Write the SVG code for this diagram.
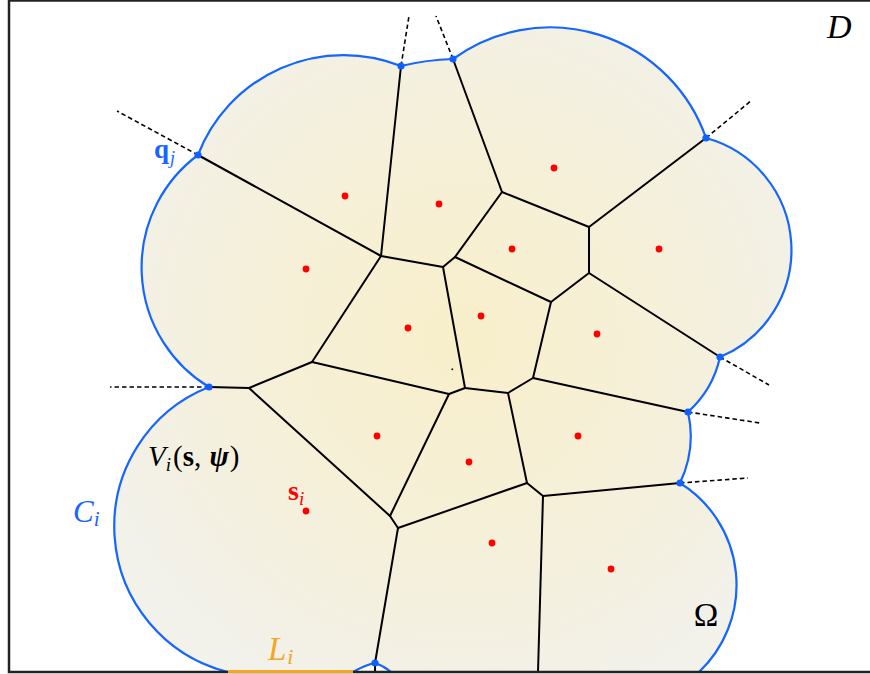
<svg xmlns="http://www.w3.org/2000/svg" width="870" height="674" viewBox="0 0 870 674">
  <defs>
    <radialGradient id="fillGrad" gradientUnits="userSpaceOnUse" cx="460" cy="340" r="380">
      <stop offset="0" stop-color="#f8efca"/>
      <stop offset="0.6" stop-color="#f5f0db"/>
      <stop offset="1" stop-color="#f2f1ea"/>
    </radialGradient>
    <clipPath id="frameClip">
      <rect x="9" y="0" width="870" height="672"/>
    </clipPath>
    <style>
      .vor { stroke: #000; stroke-width: 2; fill: none; stroke-linecap: round; }
      .dash { stroke: #000; stroke-width: 1.6; fill: none; stroke-dasharray: 4.5 3; }
      .bnd { stroke: #1565ff; stroke-width: 2.2; fill: none; }
      .site { fill: #ff0000; }
      .bpt { fill: #1060ff; }
      .lbl { font-family: "Liberation Serif", "Times New Roman", serif; }
    </style>
  </defs>

  <rect x="0" y="0" width="870" height="674" fill="#ffffff"/>

  <!-- region Omega fill -->
  <g id="omega" clip-path="url(#frameClip)">
    <path fill="url(#fillGrad)" d="M209,387 A140,140 0 0 1 198,155 A156,156 0 0 1 401,66 A250,250 0 0 1 453,59 A165,165 0 0 1 706,138 A116,116 0 0 1 720,357 A104,104 0 0 1 688,412 A109,109 0 0 1 680,483 A120,120 0 0 1 699,672 L391,672 L375,663 L353,672 L228,672 A150,150 0 0 1 209,387 Z"/>
  </g>

  <!-- connectors: Voronoi edges -->
  <g id="connectors">
    <g id="voronoi-edges" class="vor">
      <line x1="198" y1="155" x2="381" y2="256"/>
      <line x1="401" y1="66" x2="381" y2="256"/>
      <line x1="381" y1="256" x2="443" y2="267"/>
      <line x1="443" y1="267" x2="455" y2="257"/>
      <line x1="455" y1="257" x2="502" y2="192"/>
      <line x1="453" y1="59" x2="502" y2="192"/>
      <line x1="502" y1="192" x2="589" y2="227"/>
      <line x1="589" y1="227" x2="706" y2="138"/>
      <line x1="589" y1="227" x2="589" y2="273"/>
      <line x1="455" y1="257" x2="551" y2="302"/>
      <line x1="589" y1="273" x2="551" y2="302"/>
      <line x1="589" y1="273" x2="720" y2="357"/>
      <line x1="551" y1="302" x2="533" y2="378"/>
      <line x1="533" y1="378" x2="688" y2="412"/>
      <line x1="533" y1="378" x2="508" y2="393"/>
      <line x1="508" y1="393" x2="465" y2="388"/>
      <line x1="465" y1="388" x2="443" y2="267"/>
      <line x1="465" y1="388" x2="449" y2="394"/>
      <line x1="449" y1="394" x2="312" y2="362"/>
      <line x1="312" y1="362" x2="381" y2="256"/>
      <line x1="312" y1="362" x2="249" y2="388"/>
      <line x1="249" y1="388" x2="209" y2="387"/>
      <line x1="249" y1="388" x2="390" y2="516"/>
      <line x1="449" y1="394" x2="390" y2="516"/>
      <line x1="390" y1="516" x2="398" y2="528"/>
      <line x1="398" y1="528" x2="375" y2="663"/>
      <line x1="398" y1="528" x2="527" y2="483"/>
      <line x1="508" y1="393" x2="527" y2="483"/>
      <line x1="527" y1="483" x2="543" y2="496"/>
      <line x1="543" y1="496" x2="680" y2="483"/>
      <line x1="543" y1="496" x2="538" y2="672"/>
      <line x1="375" y1="663" x2="375" y2="672"/>
    </g>
    <g id="dashed-extensions" class="dash">
      <line x1="198" y1="155" x2="117" y2="111"/>
      <line x1="401" y1="66" x2="409" y2="16"/>
      <line x1="453" y1="59" x2="436" y2="16"/>
      <line x1="706" y1="138" x2="752" y2="100"/>
      <line x1="720" y1="357" x2="769" y2="385"/>
      <line x1="688" y1="412" x2="760" y2="423"/>
      <line x1="680" y1="483" x2="748" y2="478"/>
      <line x1="209" y1="387" x2="110" y2="387"/>
    </g>
  </g>

  <!-- boundary of Omega (blue arcs) -->
  <g id="boundary" clip-path="url(#frameClip)">
    <path class="bnd" d="M228,672 A150,150 0 0 1 209,387 A140,140 0 0 1 198,155 A156,156 0 0 1 401,66 A250,250 0 0 1 453,59 A165,165 0 0 1 706,138 A116,116 0 0 1 720,357 A104,104 0 0 1 688,412 A109,109 0 0 1 680,483 A120,120 0 0 1 699,672"/>
    <path class="bnd" d="M353,672 Q365,665 375,663 Q384,666 391,672"/>
  </g>

  <!-- frame D -->
  <g id="frame-D">
    <path d="M9,0.5 H870 M9,0 V672 H870" fill="none" stroke="#222" stroke-width="2.5"/>
  </g>

  <!-- L_i segment -->
  <g id="segment-L">
    <line x1="228" y1="671.5" x2="353" y2="671.5" stroke="#f5a623" stroke-width="3"/>
  </g>

  <!-- boundary points -->
  <g id="boundary-points" class="bpt">
    <circle id="q-j" cx="198" cy="155" r="3.6"/>
    <circle cx="401" cy="66" r="3.6"/>
    <circle cx="453" cy="59" r="3.6"/>
    <circle cx="706" cy="138" r="3.6"/>
    <circle cx="720" cy="357" r="3.6"/>
    <circle cx="688" cy="412" r="3.6"/>
    <circle cx="680" cy="483" r="3.6"/>
    <circle cx="375" cy="663" r="3.6"/>
    <circle cx="209" cy="387" r="3.6"/>
  </g>

  <!-- sites -->
  <g id="sites" class="site">
    <circle id="site-1" cx="345" cy="196" r="3.4"/>
    <circle id="site-2" cx="439" cy="204" r="3.4"/>
    <circle id="site-3" cx="554" cy="168" r="3.4"/>
    <circle id="site-4" cx="306" cy="269" r="3.4"/>
    <circle id="site-5" cx="512" cy="249" r="3.4"/>
    <circle id="site-6" cx="659" cy="249" r="3.4"/>
    <circle id="site-7" cx="408" cy="328" r="3.4"/>
    <circle id="site-8" cx="481" cy="316" r="3.4"/>
    <circle id="site-9" cx="597" cy="334" r="3.4"/>
    <circle id="site-10" cx="377" cy="436" r="3.4"/>
    <circle id="site-11" cx="469" cy="462" r="3.4"/>
    <circle id="site-12" cx="578" cy="436" r="3.4"/>
    <circle id="site-i" cx="306" cy="511" r="3.4"/>
    <circle id="site-14" cx="492" cy="543" r="3.4"/>
    <circle id="site-15" cx="611" cy="569" r="3.4"/>
  </g>

  <rect x="451.5" y="368.5" width="1.6" height="1.6" fill="#000"/>

  <!-- labels -->
  <g id="label-D"><text class="lbl" x="827" y="38" font-size="34" font-style="italic">D</text></g>
  <g id="label-Omega"><text class="lbl" x="706" y="626" font-size="33" text-anchor="middle">Ω</text></g>
  <g id="label-qj"><text class="lbl" x="154" y="158" font-size="27" font-weight="bold" fill="#1565ff">q<tspan font-size="18" font-weight="normal" font-style="italic" dx="1" dy="6">j</tspan></text></g>
  <g id="label-Vi"><text class="lbl" x="148" y="466" font-size="29"><tspan font-style="italic">V</tspan><tspan font-size="19" font-style="italic" dy="5">i</tspan><tspan dy="-5" dx="2">(</tspan><tspan font-weight="bold">s</tspan><tspan>, </tspan><tspan font-weight="bold" font-style="italic" dx="1">ψ</tspan><tspan dx="1">)</tspan></text></g>
  <g id="label-si"><text class="lbl" x="288" y="500" font-size="28" font-weight="bold" fill="#ff0000">s<tspan font-size="19" font-weight="normal" font-style="italic" dy="5">i</tspan></text></g>
  <g id="label-Ci"><text class="lbl" x="73" y="522" font-size="31" font-style="italic" fill="#1565ff">C<tspan font-size="21" dy="4">i</tspan></text></g>
  <g id="label-Li"><text class="lbl" x="268" y="660" font-size="33" font-style="italic" fill="#f5a623">L<tspan font-size="22" dy="4" dx="1">i</tspan></text></g>
</svg>
